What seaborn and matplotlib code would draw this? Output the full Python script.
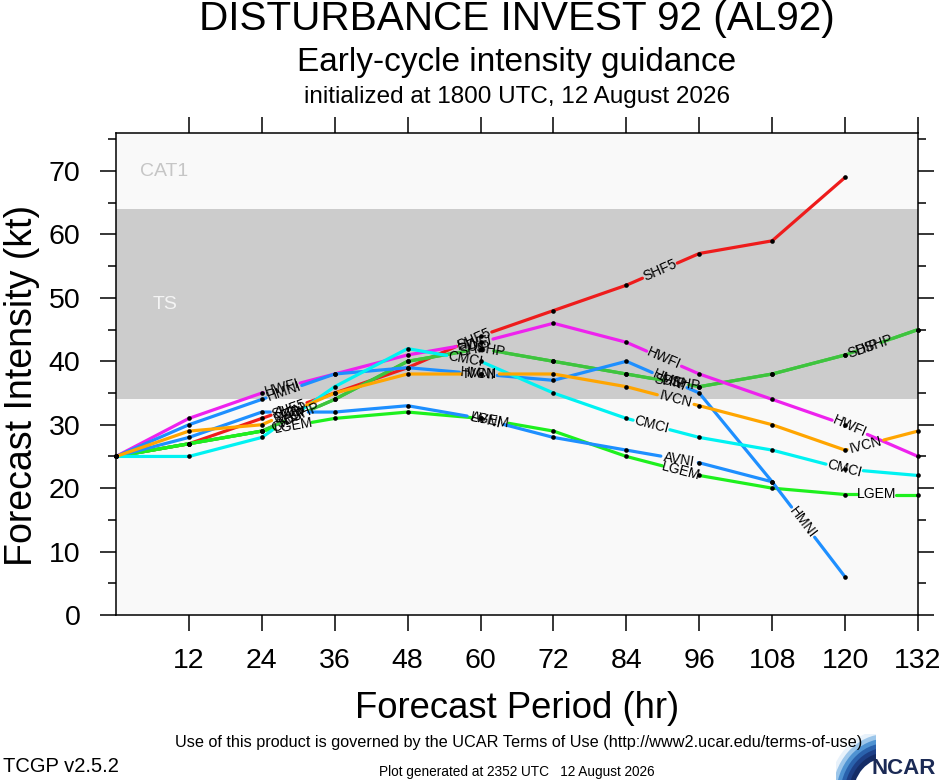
import numpy as np
import pandas as pd
import seaborn as sns
import matplotlib.pyplot as plt
from matplotlib.patches import Wedge

# Forecast hours and early-cycle intensity guidance (kt)
hours = [0, 12, 24, 36, 48, 60, 72, 84, 96, 108, 120, 132]

shf5 = [25, 27, 31, 35, 39, 44, 48, 52, 57, 59, 69]
dshp = [25, 27, 29, 34, 40, 42, 40, 38, 36, 38, 41, 45]
ship = [25, 27, 29, 34, 40, 42, 40, 38, 36, 38, 41, 45]
lgem = [25, 27, 29, 31, 32, 31, 29, 25, 22, 20, 19, 19]
hwfi = [25, 31, 35, 38, 41, 43, 46, 43, 38, 34, 30, 25]
hmni = [25, 30, 34, 38, 39, 38, 37, 40, 35, 21, 6]
avni = [25, 28, 32, 32, 33, 31, 28, 26, 24, 21]
cmci = [25, 25, 28, 36, 42, 40, 35, 31, 28, 26, 23, 22]
ivcn = [25, 29, 30, 35, 38, 38, 38, 36, 33, 30, 26, 29]

model_names = ["SHF5", "DSHP", "SHIP", "LGEM", "HWFI", "HMNI", "AVNI", "CMCI", "IVCN"]
model_values = [shf5, dshp, ship, lgem, hwfi, hmni, avni, cmci, ivcn]
model_colors = ["#ee1c1c", "#3ec43e", "#3ec43e", "#1ef01e", "#ee22ee",
                "#1e8fff", "#1e8fff", "#00f2f2", "#ffa500"]

# intensity categories
ts_band = (34, 64)
cat1_band = (64, 83)

sns.set_theme(style="white")
plt.rcParams['font.family'] = ['Liberation Sans', 'DejaVu Sans']

fig = plt.figure(figsize=(9.4, 7.8), dpi=100)
ax = fig.add_axes([116 / 940, 165 / 780, 802 / 940, 482 / 780])
ax.set_xlim(0, 132)
ax.set_ylim(0, 76)
ax.set_facecolor('#f9f9f9')
ax.axhspan(*ts_band, color='#cccccc', lw=0, zorder=0)
ax.text(8, np.mean([cat1_band[0], 76]), "CAT1", color='#c6c6c6', fontsize=14,
        ha='center', va='center')
ax.text(8, np.mean(ts_band), "TS", color='#f4f4f4', fontsize=14,
        ha='center', va='center')

# line labels repeat along each curve, with the line broken around them
label_start = 180
label_step = 198
label_half = 19


def point_at(pts, cum, s):
    i = int(np.clip(np.searchsorted(cum, s) - 1, 0, len(pts) - 2))
    f = (s - cum[i]) / (cum[i + 1] - cum[i])
    p = pts[i] + f * (pts[i + 1] - pts[i])
    d = pts[i + 1] - pts[i]
    return p, np.degrees(np.arctan2(d[1], d[0]))


rows = []
labels = []
for name, vals in zip(model_names, model_values):
    xs = hours[:len(vals)]
    pts = ax.transData.transform(np.column_stack([xs, vals]))
    cum = np.concatenate([[0], np.cumsum(np.hypot(*np.diff(pts, axis=0).T))])
    total = cum[-1]
    centers = []
    s = label_start + (12 if name == "DSHP" else 0)
    while s + label_half <= total:
        centers.append(s)
        s += label_step
    for c in centers:
        p, ang = point_at(pts, cum, c)
        labels.append((name, ax.transData.inverted().transform(p), ang))
    bounds = [0] + [v for c in centers for v in (c - label_half, c + label_half)] + [total]
    for k, (a, b) in enumerate(zip(bounds[::2], bounds[1::2])):
        piece = [point_at(pts, cum, a)[0]]
        piece += list(pts[(cum > a) & (cum < b)])
        piece.append(point_at(pts, cum, b)[0])
        piece = ax.transData.inverted().transform(np.array(piece))
        for j, (px, py) in enumerate(piece):
            rows.append({"model": name, "piece": f"{name}-{k}", "order": j,
                         "hr": px, "kt": py})

lines = pd.DataFrame(rows)
sns.lineplot(data=lines, x="hr", y="kt", hue="model", units="piece",
             estimator=None, sort=False, hue_order=model_names,
             palette=dict(zip(model_names, model_colors)), linewidth=2.3,
             legend=False, ax=ax, zorder=3)

for name, (lx, ly), ang in labels:
    ax.text(lx, ly, name, fontsize=10, rotation=ang, rotation_mode='anchor',
            ha='center', va='center', color='black', zorder=4)

points = pd.DataFrame([{"hr": h, "kt": v} for vals in model_values
                       for h, v in zip(hours, vals)])
sns.scatterplot(data=points, x="hr", y="kt", color='black', s=11, linewidth=0,
                zorder=5, ax=ax, legend=False, clip_on=False)

ax.set_xlim(0, 132)
ax.set_ylim(0, 76)
ax.set_xticks(hours[1:])
ax.set_yticks(range(0, 71, 10))
ax.set_yticks(range(5, 76, 10), minor=True)
ax.tick_params(axis='both', which='major', direction='out', length=11.5, width=1.1,
               color='black', labelsize=20.5, labelcolor='black')
ax.tick_params(axis='x', bottom=True, top=True, pad=12)
ax.tick_params(axis='y', left=True, right=True, pad=14)
ax.tick_params(axis='y', which='minor', direction='out', length=5.8, width=1.1,
               color='black', left=True, right=True)
for sp in ax.spines.values():
    sp.set_color('black')
    sp.set_linewidth(1.1)

ax.set_xlabel("Forecast Period (hr)", fontsize=26.3, color='black')
ax.set_ylabel("Forecast Intensity (kt)", fontsize=27, color='black')
ax.xaxis.label.set_va('center')
ax.yaxis.label.set_va('center')
ax.xaxis.set_label_coords(0.5, (615 - 708) / 482)
ax.yaxis.set_label_coords((22 - 116) / 802, (615 - 385) / 482)

# titles
cx = (116 + 918) / 2 / 940
fig.text(cx, 1 - 19 / 780, "DISTURBANCE INVEST 92 (AL92)", fontsize=29.2,
         ha='center', va='center', color='black')
fig.text(cx, 1 - 62 / 780, "Early-cycle intensity guidance", fontsize=24,
         ha='center', va='center', color='black')
fig.text(cx, 1 - 97 / 780, "initialized at 1800 UTC, 12 August 2026", fontsize=17.5,
         ha='center', va='center', color='black')

# footer
fig.text(519 / 940, 1 - 743 / 780,
         "Use of this product is governed by the UCAR Terms of Use (http://www2.ucar.edu/terms-of-use)",
         fontsize=11.7, ha='center', va='center', color='black')
fig.text(3 / 940, 1 - 766 / 780, "TCGP v2.5.2", fontsize=14.5,
         ha='left', va='center', color='black')
fig.text(517 / 940, 1 - 772 / 780, "Plot generated at 2352 UTC   12 August 2026",
         fontsize=9.8, ha='center', va='center', color='black')

# NCAR logo
logo = fig.add_axes([836 / 940, 0, 40 / 940, 46 / 780])
logo.set_xlim(0, 1)
logo.set_ylim(0, 1)
logo.axis('off')
shades = ['#e8f2fb', '#9cc6ea', '#4f93d2', '#2a62ad', '#1d3f86', '#142c66']
for r, c in zip(np.linspace(1.45, 0.95, len(shades)), shades):
    logo.add_patch(Wedge((1.25, -0.35), r, 90, 180, width=0.12, color=c, lw=0))
fig.text(904 / 940, 1 - 768 / 780, "NCAR", fontsize=16, weight='bold',
         ha='center', va='center', color='#1b2a55')

fig.savefig("out.png", dpi=100, facecolor='white')
